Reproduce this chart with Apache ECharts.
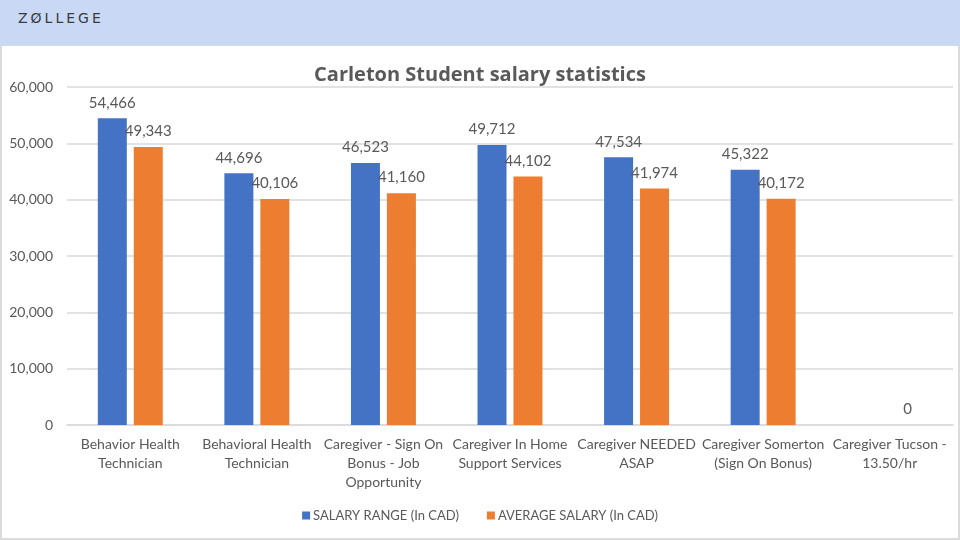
<!DOCTYPE html>
<html>
<head>
<meta charset="utf-8">
<title>Carleton Student salary statistics</title>
<script src="https://cdn.jsdelivr.net/npm/echarts@6/dist/echarts.min.js"></script>
<style>
    body { margin: 0; background: #fff; }
    .head_bar {
        width: 960px; height: 46px; background: #C9D9F5;
        box-sizing: border-box; border-bottom: 1px solid #d4d9e2;
    }
    .logo {
        position: absolute; left: 18px; top: 10px;
        font-family: "DejaVu Sans", sans-serif; font-size: 14px;
        letter-spacing: 3px; color: #3a3a3a;
    }
    .chart_wrap {
        width: 960px; height: 494px; box-sizing: border-box;
        border: 2px solid #dcdcdc; border-top: none;
    }
    #chart { width: 956px; height: 492px; }
</style>
</head>
<body>
    <div class="head_bar"><div class="logo">ZØLLEGE</div></div>
    <div class="chart_wrap"><div id="chart"></div></div>

<script>
    // 数据
    var categories = [
        'Behavior Health\nTechnician',
        'Behavioral Health\nTechnician',
        'Caregiver - Sign On\nBonus - Job\nOpportunity',
        'Caregiver In Home\nSupport Services',
        'Caregiver NEEDED\nASAP',
        'Caregiver Somerton\n(Sign On Bonus)',
        'Caregiver Tucson -\n13.50/hr'
    ];
    var salaryRange = [54466, 44696, 46523, 49712, 47534, 45322, null];
    var averageSalary = [49343, 40106, 41160, 44102, 41974, 40172, 0];
    var yTicks = [0, 10000, 20000, 30000, 40000, 50000, 60000];

    var font = 'Lato, "Open Sans", sans-serif';
    var chart = echarts.init(document.getElementById('chart'));

    function fmt(v) {
        return Number(v).toLocaleString('en-US');
    }

    var option = {
        animation: false,
        title: {
            text: 'Carleton Student salary statistics',
            left: 'center',
            top: 14,
            textStyle: { fontFamily: '"Open Sans", sans-serif', fontSize: 20, fontWeight: 'bold', color: '#595959' }
        },
        legend: {
            bottom: 11,
            left: 'center',
            itemWidth: 8,
            itemHeight: 8,
            itemGap: 28,
            icon: 'rect',
            textStyle: { fontFamily: font, fontSize: 13, color: '#595959', padding: [0, 0, 0, -2] },
            data: ['SALARY RANGE (In CAD)', 'AVERAGE SALARY (In CAD)']
        },
        grid: { left: 65, right: 5, top: 41, bottom: 113, containLabel: false },
        xAxis: {
            type: 'category',
            data: categories,
            axisLine: { lineStyle: { color: '#d9d9d9', width: 1.5 } },
            axisTick: { show: false },
            axisLabel: {
                interval: 0, fontFamily: font, fontSize: 14, color: '#595959',
                lineHeight: 19, margin: 10
            }
        },
        yAxis: {
            type: 'value',
            min: yTicks[0],
            max: yTicks[yTicks.length - 1],
            interval: 10000,
            axisLine: { show: false },
            axisTick: { show: false },
            splitLine: { lineStyle: { color: '#d9d9d9', width: 1.5 } },
            axisLabel: {
                fontFamily: font, fontSize: 14, color: '#595959', margin: 14,
                formatter: function (v) { return fmt(v); }
            }
        },
        series: [
            {
                name: 'SALARY RANGE (In CAD)',
                type: 'bar',
                data: salaryRange,
                barWidth: 29,
                barGap: '24%',
                itemStyle: { color: '#4472C4' },
                label: {
                    show: true, position: 'top', distance: 8,
                    fontFamily: font, fontSize: 15, color: '#595959',
                    formatter: function (p) { return fmt(p.value); }
                }
            },
            {
                name: 'AVERAGE SALARY (In CAD)',
                type: 'bar',
                data: averageSalary,
                barWidth: 29,
                itemStyle: { color: '#ED7D31' },
                label: {
                    show: true, position: 'top', distance: 8,
                    fontFamily: font, fontSize: 15, color: '#595959',
                    formatter: function (p) { return fmt(p.value); }
                }
            }
        ]
    };
    chart.setOption(option);
</script>
</body>
</html>
